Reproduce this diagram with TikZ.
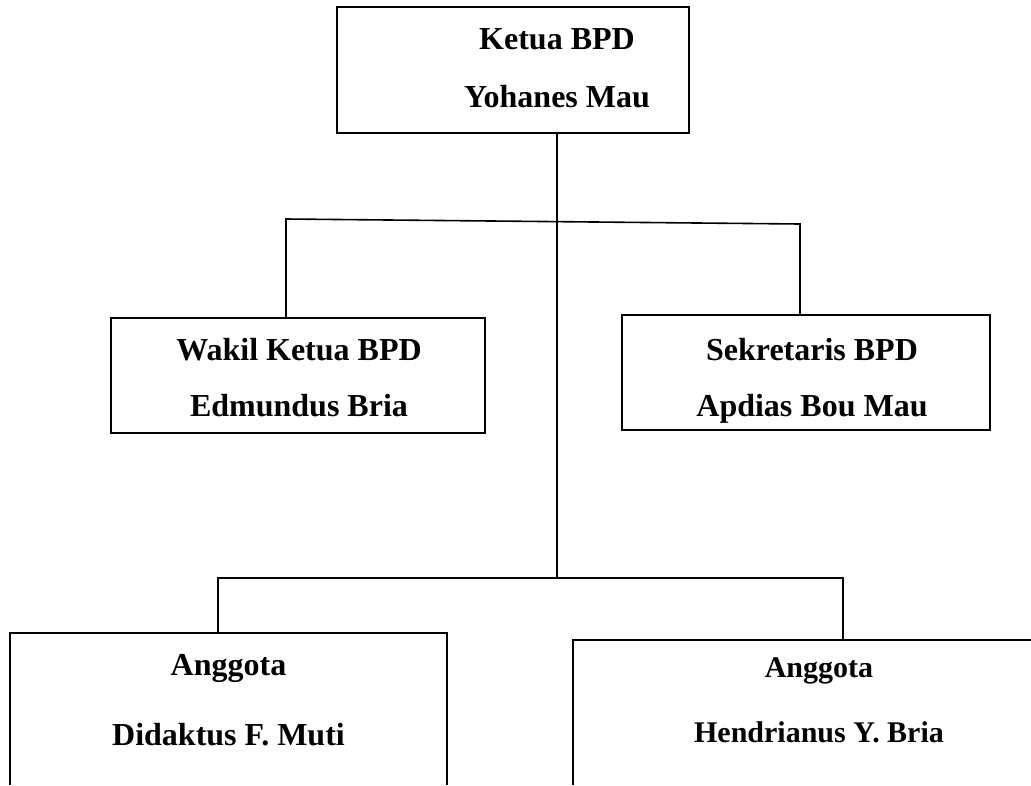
\documentclass[tikz,border=0pt]{standalone}
\usepackage{fontspec}
\setmainfont{Liberation Serif}
\begin{document}
\begin{tikzpicture}[x=1pt,y=-1pt,
  box/.style={draw=black,line width=1.6pt,inner sep=0pt},
  openbox/.style={inner sep=0pt},
  line/.style={draw=black,line width=1.6pt},
  txt/.style={anchor=base,inner sep=0pt,font=\fontsize{32}{38}\selectfont\bfseries},
  txtsm/.style={anchor=base,inner sep=0pt,font=\fontsize{30}{36}\selectfont\bfseries}]
\useasboundingbox (0,0) rectangle (1031,785);
% boxes
\node[box,minimum width=352pt,minimum height=126pt] (ketua) at (513,70) {};
\node[box,minimum width=374pt,minimum height=115pt] (wakil) at (298,375.5) {};
\node[box,minimum width=368pt,minimum height=115pt] (sek) at (806,372.5) {};
\node[openbox,minimum width=437pt,minimum height=152pt] (ang1) at (228.5,709) {};
\node[openbox,minimum width=487pt,minimum height=145pt] (ang2) at (816.5,712.5) {};
\draw[line] (ang1.south west) -- (ang1.north west) -- (ang1.north east) -- (ang1.south east);
\draw[line] (ang2.south west) -- (ang2.north west) -- (ang2.north east);
% texts
\node[txt] (t1) at (557,49) {Ketua BPD};
\node[txt] (t2) at (557,107) {Yohanes Mau};
\node[txt] (t3) at (299,360) {Wakil Ketua BPD};
\node[txt] (t4) at (299,416) {Edmundus Bria};
\node[txt] (t5) at (812,360) {Sekretaris BPD};
\node[txt] (t6) at (812,416) {Apdias Bou Mau};
\node[txt] (t7) at (228.5,675) {Anggota};
\node[txt] (t8) at (228.5,745) {Didaktus F. Muti};
\node[txtsm] (t9) at (819,677) {Anggota};
\node[txtsm] (t10) at (819,742) {Hendrianus Y. Bria};
% connectors
\coordinate (kb) at (557,133);
\coordinate (mid) at (557,578);
\coordinate (bl) at (286,219);
\coordinate (br) at (800,224);
\coordinate (lb) at (218,578);
\coordinate (rb) at (843,578);
\draw[line] (kb) -- (mid);
\draw[line] (wakil.north -| bl) -- (bl) -- (br) -- (sek.north -| br);
\draw[line] (ang1.north -| lb) -- (lb) -- (rb) -- (ang2.north -| rb);
\end{tikzpicture}
\end{document}
